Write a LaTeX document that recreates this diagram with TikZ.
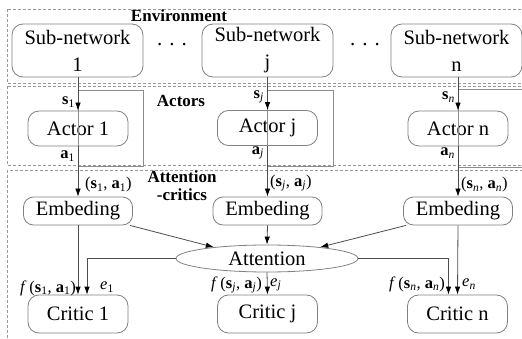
\documentclass[tikz,border=0pt]{standalone}
\usepackage{fontspec}
\setmainfont{Liberation Serif}
\usetikzlibrary{arrows.meta,shapes.geometric}

% bold vector with a subscript
\newcommand{\vsub}[2]{\textbf{#1}\textsubscript{#2}}

\begin{document}
\begin{tikzpicture}[x=1pt,y=-1pt,
  boxline/.style={draw=black!50,line width=0.8pt},
  unit/.style={boxline,rounded corners=11pt,inner sep=0pt,align=center,
    font=\fontsize{20.5}{27}\selectfont},
  region/.style={draw=black!40,dashed,dash pattern=on 3pt off 2pt,line width=0.7pt},
  frame/.style={draw=black!45,line width=0.8pt},
  conn/.style={draw=black!70,line width=0.8pt,-{Latex[length=8pt,width=5.5pt,black]}},
  tag/.style={font=\fontsize{16.5}{18}\selectfont,inner sep=0pt},
  heading/.style={font=\fontsize{17}{18}\selectfont\bfseries,align=center,inner sep=0pt}]

\useasboundingbox (0,0) rectangle (522,339);

% dashed regions
\draw[region] (7,9) rectangle (530,83);
\draw[region] (7,86) rectangle (530,165);
\draw[region] (7,170) rectangle (530,345);

\node[heading] (envlbl) at (179,16) {Environment};
\node[heading] (actlbl) at (181,101) {Actors};
\node[heading] (attlbl) at (182,186) {Attention\\-critics};

% sub-networks
\node[unit,minimum width=131pt,minimum height=53pt] (sub1) at (77.5,50.5) {Sub-network\\1};
\node[unit,minimum width=131pt,minimum height=53pt] (subj) at (267.5,50.5) {Sub-network\\j};
\node[unit,minimum width=131pt,minimum height=53pt] (subn) at (456.5,50.5) {Sub-network\\n};
\node[font=\fontsize{21}{21}\selectfont,anchor=base,inner sep=0pt] (dots1) at (172,46) {.\,\,.\,\,.};
\node[font=\fontsize{21}{21}\selectfont,anchor=base,inner sep=0pt] (dots2) at (365,46) {.\,\,.\,\,.};

% actors
\node[unit,minimum width=100pt,minimum height=35pt] (act1) at (78,128.5) {Actor 1};
\node[unit,minimum width=100pt,minimum height=35pt] (actj) at (267.5,128) {Actor j};
\node[unit,minimum width=100pt,minimum height=35pt] (actn) at (458,128.5) {Actor n};

% embeddings
\node[unit,rounded corners=10pt,minimum width=109pt,minimum height=28pt] (emb1) at (78,211) {Embeding};
\node[unit,rounded corners=10pt,minimum width=109pt,minimum height=28pt] (embj) at (267.5,211) {Embeding};
\node[unit,rounded corners=10pt,minimum width=109pt,minimum height=28pt] (embn) at (458,211) {Embeding};

% attention
\node[boxline,ellipse,inner sep=0pt,minimum width=182pt,minimum height=27pt,
  font=\fontsize{20.5}{24}\selectfont] (att) at (267,258.5) {Attention};

% critics
\node[unit,minimum width=100pt,minimum height=38pt] (crit1) at (78,314) {Critic 1};
\node[unit,minimum width=100pt,minimum height=38pt] (critj) at (267.5,314) {Critic j};
\node[unit,minimum width=100pt,minimum height=38pt] (critn) at (457.5,314) {Critic n};

% open frames beside the actor arrows
\draw[frame] (78,90) rectangle (143,166);
\draw[frame] (267.5,90) rectangle (333,166);
\draw[frame] (458,89) rectangle (530,167);

% states into actors
\draw[conn] (act1 |- sub1.south) -- (act1.north);
\draw[conn] (actj |- subj.south) -- (actj.north);
\draw[conn] (actn |- subn.south) -- (actn.north);

% state-action pairs into embeddings
\draw[conn] (act1.south) -- (emb1.north);
\draw[conn] (actj.south) -- (embj.north);
\draw[conn] (actn.south) -- (embn.north);

% embeddings into attention
\draw[conn] ([xshift=-3pt]emb1.south east) -- (att.168);
\draw[conn] (embj.south) -- (att.north);
\draw[conn] ([xshift=3pt]embn.south west) -- (att.12);

% into critics
\draw[conn] (emb1.south) -- (crit1.north);
\draw[conn] (att.west) -| ([xshift=9pt]crit1.north);
\draw[conn] (att.south) -- (critj.north);
\draw[conn] (att.east) -| ([xshift=-9pt]critn.north);
\draw[conn] (embn.south) -- (critn.north);

% labels
\node[tag,anchor=east] (ls1) at (75,102) {\vsub{s}{1}};
\node[tag,anchor=east] (la1) at (75,156) {\vsub{a}{1}};
\node[tag,anchor=east] (lsj) at (264,97) {\vsub{s}{\textit{j}}};
\node[tag,anchor=east] (laj) at (264,153) {\vsub{a}{\textit{j}}};
\node[tag,anchor=east] (lsn) at (455,97) {\vsub{s}{\textit{n}}};
\node[tag,anchor=east] (lan) at (455,153) {\vsub{a}{\textit{n}}};

\node[tag,anchor=west] (lp1) at (85,185) {(\vsub{s}{1}, \vsub{a}{1})};
\node[tag,anchor=west] (lpj) at (270,183) {(\vsub{s}{\textit{j}}, \vsub{a}{\textit{j}})};
\node[tag,anchor=west] (lpn) at (461,185) {(\vsub{s}{\textit{n}}, \vsub{a}{\textit{n}})};

\node[tag,anchor=east] (lf1) at (76,288) {\textit{f}\,(\vsub{s}{1}, \vsub{a}{1})};
\node[tag,anchor=west] (le1) at (100,287) {\textit{e}\textsubscript{1}};
\node[tag,anchor=east] (lfj) at (262,285) {\textit{f}\,(\vsub{s}{\textit{j}}, \vsub{a}{\textit{j}})};
\node[tag,anchor=west] (lej) at (270,285) {\textit{e}\textsubscript{\textit{j}}};
\node[tag,anchor=east] (lfn) at (445,284) {\textit{f}\,(\vsub{s}{\textit{n}}, \vsub{a}{\textit{n}})};
\node[tag,anchor=west] (len) at (462,284) {\textit{e}\textsubscript{\textit{n}}};

\end{tikzpicture}
\end{document}
